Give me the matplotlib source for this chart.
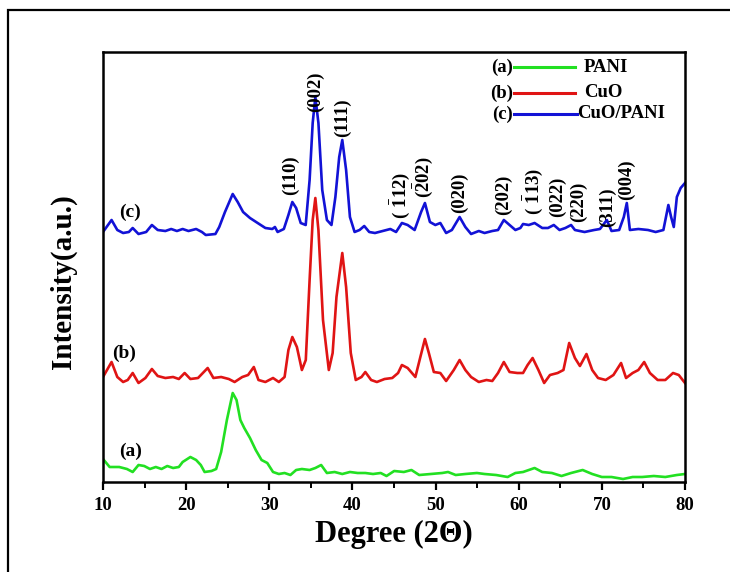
import matplotlib
matplotlib.use("Agg")
import matplotlib.pyplot as plt
from matplotlib.patches import Rectangle
from matplotlib.lines import Line2D

plt.rcParams["font.family"] = ["Liberation Serif", "DejaVu Serif"]
plt.rcParams["font.weight"] = "bold"
plt.rcParams["mathtext.fontset"] = "custom"
plt.rcParams["mathtext.rm"] = "Liberation Serif"
plt.rcParams["mathtext.bf"] = "Liberation Serif:bold"

# ---- XRD patterns: 2-theta (deg) and intensity (a.u., relative to each trace's baseline)
pani_2theta = [10.0, 10.8, 11.95, 12.88, 13.57, 14.27, 14.96, 15.65, 16.35, 17.04, 17.73,
               18.43, 19.12, 19.58, 20.51, 21.2, 21.76, 22.22, 23.05, 23.61, 24.21, 24.9,
               25.6, 26.06, 26.52, 26.99, 27.68, 28.37, 29.07, 29.76, 30.45, 31.15, 31.84,
               32.54, 33.23, 33.92, 34.85, 35.54, 36.24, 36.93, 37.86, 38.78, 39.7, 40.63,
               41.55, 42.48, 43.4, 44.1, 45.02, 46.18, 47.1, 48.03, 49.42, 50.8, 51.5,
               52.42, 53.58, 54.97, 55.89, 57.28, 58.67, 59.6, 60.52, 61.91, 62.83, 63.99,
               65.15, 66.3, 67.69, 68.84, 70.0, 71.16, 72.55, 73.7, 74.85, 76.25, 77.63,
               79.02, 80.0]
pani_int = [23, 15, 15, 13, 10, 17, 16, 13, 15, 13, 16,
            14, 15, 20, 25, 22, 17, 10, 11, 13, 30, 62,
            89, 82, 62, 54, 44, 32, 22, 19, 10, 8, 9,
            7, 12, 13, 12, 14, 17, 9, 10, 8, 10, 9,
            9, 8, 9, 6, 11, 10, 12, 7, 8, 9, 10,
            7, 8, 9, 8, 7, 5, 9, 10, 14, 10, 9,
            6, 9, 12, 8, 5, 5, 3, 5, 5, 6, 5,
            7, 8]

cuo_2theta = [10.0, 11.03, 11.72, 12.42, 12.97, 13.57, 14.27, 15.1, 15.88, 16.58, 17.5,
              18.43, 19.12, 19.82, 20.51, 21.43, 22.59, 23.28, 24.21, 25.13, 25.83, 26.75,
              27.45, 28.14, 28.7, 29.53, 30.45, 31.15, 31.84, 32.3, 32.77, 33.32, 33.92,
              34.39, 34.85, 35.22, 35.54, 35.91, 36.46, 37.16, 37.62, 38.08, 38.78, 39.24,
              39.8, 40.4, 41.09, 41.55, 42.25, 42.94, 43.87, 44.79, 45.49, 45.95, 46.64,
              47.57, 48.17, 48.72, 49.19, 49.79, 50.57, 51.27, 52.19, 52.89, 53.58, 54.27,
              55.2, 56.12, 56.82, 57.51, 58.21, 58.9, 59.83, 60.52, 61.07, 61.67, 62.37,
              63.06, 63.76, 64.68, 65.38, 66.07, 66.76, 67.36, 68.15, 68.84, 69.54, 70.46,
              71.39, 72.31, 72.91, 73.7, 74.39, 75.09, 75.78, 76.71, 77.63, 78.56, 79.25,
              80.0]
cuo_int = [5, 20, 5, 0, 2, 9, -1, 4, 13, 6, 4,
           5, 3, 9, 3, 4, 14, 4, 5, 3, 0, 5,
           7, 15, 2, 0, 4, 0, 5, 32, 45, 35, 12,
           22, 102, 162, 184, 152, 62, 12, 29, 85, 129, 95,
           29, 2, 5, 10, 2, 0, 3, 4, 9, 17, 14,
           5, 25, 43, 29, 10, 9, 1, 12, 22, 12, 5,
           0, 2, 1, 9, 20, 10, 9, 9, 17, 24, 12,
           -1, 7, 9, 12, 39, 24, 16, 28, 12, 4, 2,
           7, 19, 4, 9, 12, 20, 9, 2, 2, 9, 7,
           -1]

cuo_pani_2theta = [10.0, 11.03, 11.72, 12.42, 13.11, 13.57, 14.27, 15.19, 15.88, 16.58, 17.5,
                   18.2, 18.89, 19.58, 20.28, 21.2, 21.9, 22.36, 23.52, 23.98, 24.67, 25.6,
                   26.2, 26.85, 27.68, 28.6, 29.53, 30.36, 30.68, 31.0, 31.75, 32.3, 32.77,
                   33.23, 33.78, 34.38, 34.85, 35.22, 35.54, 35.91, 36.37, 36.93, 37.48, 37.95,
                   38.41, 38.78, 39.24, 39.7, 40.26, 40.86, 41.42, 42.02, 42.71, 43.64, 44.56,
                   45.25, 45.95, 46.64, 47.48, 48.26, 48.72, 49.32, 49.97, 50.57, 51.27, 51.96,
                   52.89, 53.58, 54.27, 55.2, 55.89, 56.82, 57.51, 58.21, 58.9, 59.6, 60.2,
                   60.52, 61.21, 61.91, 62.83, 63.52, 64.22, 64.91, 65.61, 66.3, 66.76, 67.92,
                   69.07, 69.77, 70.6, 71.16, 72.08, 72.64, 73.0, 73.37, 74.39, 75.55, 76.47,
                   77.4, 78.0, 78.33, 78.65, 79.02, 79.48, 80.0]
cuo_pani_int = [0, 12, 2, -1, 0, 4, -2, 0, 7, 2, 1,
                3, 1, 3, 1, 3, 0, -3, -2, 5, 20, 38,
                30, 20, 14, 9, 4, 3, 5, 0, 3, 17, 30,
                24, 9, 7, 52, 109, 135, 109, 42, 12, 7, 35,
                75, 92, 62, 15, 0, 2, 6, 0, -1, 1, 3,
                0, 9, 7, 2, 20, 29, 10, 7, 9, -1, 2,
                15, 5, -2, 1, -1, 1, 2, 12, 7, 2, 4,
                8, 7, 9, 4, 4, 7, 2, 4, 7, 2, 0,
                2, 3, 12, 1, 2, 15, 29, 2, 3, 2, 0,
                2, 27, 15, 5, 35, 44, 49]

# vertical stacking of the three traces
trace_offsets = [0, 100, 250]

# Miller indices of the CuO reflections and where their labels sit
hkl_labels = [r"(110)", r"(002)", r"(111)", r"$\mathbf{(\;\bar{1}12)}$", r"$\mathbf{(\bar{2}02)}$",
              r"(020)", r"(202)", r"$\mathbf{(\;\bar{1}13)}$", r"(022)", r"(220)", r"(311)", r"(004)"]
hkl_2theta = [32.6, 35.5, 38.8, 45.7, 48.5, 52.9, 58.2, 61.7, 64.7, 67.2, 70.7, 73.0]
hkl_height = [307, 390, 364, 287, 305, 289, 287, 291, 285, 280, 275, 302]

x_ticks = [10, 20, 30, 40, 50, 60, 70, 80]
x_minor_ticks = [15, 25, 35, 45, 55, 65, 75]
series_names = ["PANI", "CuO", "CuO/PANI"]
series_tags = ["(a)", "(b)", "(c)"]
series_colors = ["#22e022", "#e01414", "#1212d6"]

fig = plt.figure(figsize=(7.3, 5.72), dpi=100)
ax = fig.add_axes([103 / 730, 90 / 572, 582 / 730, 430 / 572])

# outer frame around the figure
fig.patches.append(Rectangle((8 / 730, -0.2), 1.0, (562 / 572) + 0.2, transform=fig.transFigure,
                             fill=False, edgecolor="black", linewidth=1.6))

patterns = [(pani_2theta, pani_int), (cuo_2theta, cuo_int), (cuo_pani_2theta, cuo_pani_int)]
for (tt, inten), off, col in zip(patterns, trace_offsets, series_colors):
    ax.plot(tt, [v + off for v in inten], color=col, lw=1.9)

for lab, x, h in zip(hkl_labels, hkl_2theta, hkl_height):
    ax.text(x, h, lab, rotation=90, ha="center", va="center", fontsize=13.5, fontweight="bold")

# trace tags
ax.text(13.2, 270, "(c)", ha="center", va="center", fontsize=14, fontweight="bold")
ax.text(12.5, 129, "(b)", ha="center", va="center", fontsize=14, fontweight="bold")
ax.text(13.3, 31, "(a)", ha="center", va="center", fontsize=14, fontweight="bold")

# legend drawn as tag + line + name
leg_y = [0.965, 0.905, 0.856]
for i, (tag, name, col) in enumerate(zip(series_tags, series_names, series_colors)):
    ax.text(0.705, leg_y[i], tag, transform=ax.transAxes, ha="right", va="center",
            fontsize=13.5, fontweight="bold")
    x1 = 0.811 if i < 2 else 0.815
    ax.add_line(Line2D([0.706, x1], [leg_y[i], leg_y[i]], transform=ax.transAxes,
                       color=col, lw=2.2))
    ax.text(0.826 if i < 2 else 0.815, leg_y[i], name, transform=ax.transAxes, ha="left",
            va="center", fontsize=13.5, fontweight="bold")

ax.set_xlim(10, 80)
ax.set_ylim(0, 430)
ax.set_xticks(x_ticks)
ax.set_xticks(x_minor_ticks, minor=True)
ax.set_yticks([])
ax.tick_params(axis="x", which="major", direction="out", length=6, width=1.6,
               labelsize=13.5, pad=5)
ax.tick_params(axis="x", which="minor", direction="out", length=4, width=1.4)
for lbl in ax.get_xticklabels():
    lbl.set_fontweight("bold")
for sp in ax.spines.values():
    sp.set_linewidth(1.8)

ax.set_xlabel("Degree (2\u0398)", fontsize=22, fontweight="bold")
ax.xaxis.label.set_va("center")
ax.xaxis.set_label_coords(0.5, -0.123)
ax.set_ylabel("Intensity(a.u.)", fontsize=21, fontweight="bold")
ax.yaxis.label.set_va("center")
ax.yaxis.set_label_coords(-0.069, 0.467)

fig.savefig("out.png", dpi=100)
